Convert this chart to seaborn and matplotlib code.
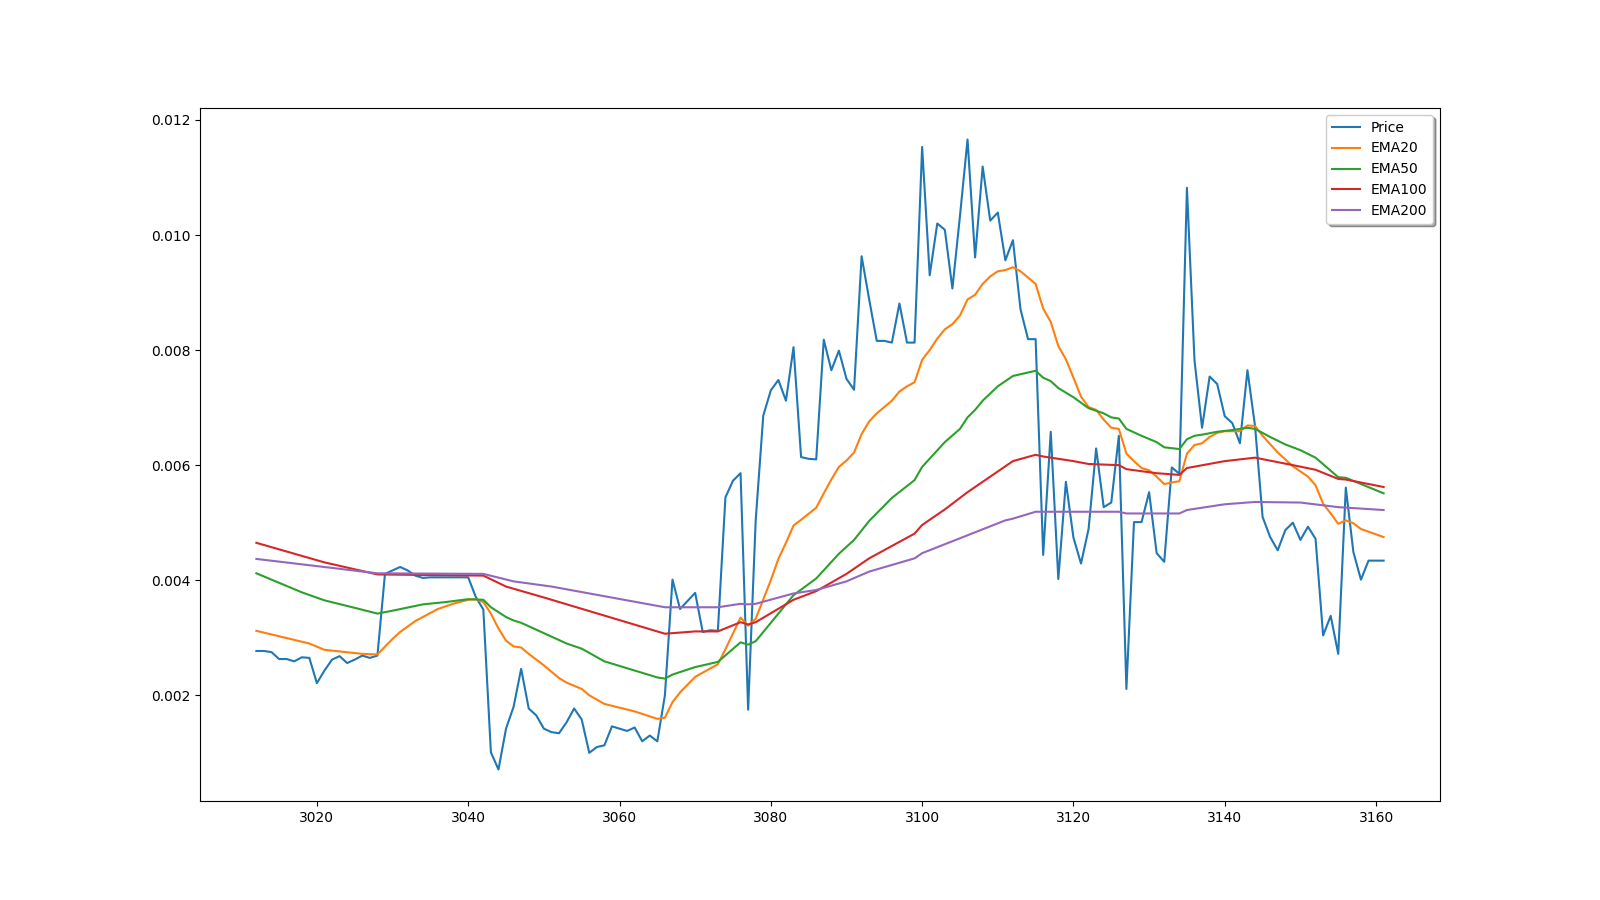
import matplotlib
matplotlib.use("Agg")
import matplotlib.pyplot as plt
import seaborn as sns
import numpy as np

# Price series (one value per integer x from 3012 to 3161)
price_x = list(range(3012, 3162))
price = [
    0.00277, 0.00277, 0.00275, 0.00263, 0.00263, 0.00259, 0.00266, 0.00265, 0.00221, 0.00243,  # 3012-3021
    0.00262, 0.00268, 0.00256, 0.00262, 0.00269, 0.00265, 0.00269, 0.00411, 0.00417, 0.00423,  # 3022-3031
    0.00417, 0.00408, 0.00404, 0.00405, 0.00405, 0.00405, 0.00405, 0.00405, 0.00405, 0.00371,  # 3032-3041
    0.00349, 0.00101, 0.00071, 0.00142, 0.00180, 0.00246, 0.00177, 0.00165, 0.00142, 0.00136,  # 3042-3051
    0.00134, 0.00153, 0.00177, 0.00158, 0.00100, 0.00110, 0.00113, 0.00146, 0.00142, 0.00138,  # 3052-3061
    0.00144, 0.00120, 0.00130, 0.00120, 0.00200, 0.00401, 0.00350, 0.00364, 0.00378, 0.00310,  # 3062-3071
    0.00313, 0.00312, 0.00544, 0.00573, 0.00586, 0.00175, 0.00504, 0.00686, 0.00730, 0.00748,  # 3072-3081
    0.00712, 0.00805, 0.00614, 0.00611, 0.00610, 0.00818, 0.00765, 0.00799, 0.00750, 0.00731,  # 3082-3091
    0.00963, 0.00888, 0.00816, 0.00816, 0.00813, 0.00881, 0.00813, 0.00813, 0.01153, 0.00930,  # 3092-3101
    0.01020, 0.01009, 0.00907, 0.01033, 0.01166, 0.00961, 0.01119, 0.01025, 0.01039, 0.00956,  # 3102-3111
    0.00991, 0.00871, 0.00819, 0.00819, 0.00444, 0.00658, 0.00402, 0.00571, 0.00474, 0.00429,  # 3112-3121
    0.00489, 0.00629, 0.00527, 0.00535, 0.00651, 0.00211, 0.00501, 0.00501, 0.00553, 0.00447,  # 3122-3131
    0.00432, 0.00596, 0.00585, 0.01082, 0.00782, 0.00665, 0.00754, 0.00741, 0.00685, 0.00673,  # 3132-3141
    0.00638, 0.00765, 0.00668, 0.00510, 0.00475, 0.00452, 0.00487, 0.00500, 0.00470, 0.00493,  # 3142-3151
    0.00472, 0.00304, 0.00338, 0.00272, 0.00561, 0.00449, 0.00401, 0.00434, 0.00434, 0.00434,  # 3152-3161
]

ema20_x = [3012, 3019, 3021, 3026, 3028, 3030, 3031, 3033, 3036, 3038, 3040, 3041, 3042, 3043,
           3044, 3045, 3046, 3047, 3048, 3050, 3052, 3053, 3055, 3056, 3058, 3062, 3065, 3066,
           3067, 3068, 3070, 3073, 3074, 3076, 3077, 3078, 3080, 3081, 3082, 3083, 3084, 3086,
           3087, 3088, 3089, 3090, 3091, 3092, 3093, 3094, 3096, 3097, 3098, 3099, 3100, 3101,
           3102, 3103, 3104, 3105, 3106, 3107, 3108, 3109, 3110, 3111, 3112, 3113, 3114, 3115,
           3116, 3117, 3118, 3119, 3120, 3121, 3122, 3123, 3124, 3125, 3126, 3127, 3128, 3129,
           3130, 3131, 3132, 3133, 3134, 3135, 3136, 3137, 3138, 3139, 3140, 3142, 3143, 3144,
           3145, 3147, 3149, 3151, 3152, 3153, 3154, 3155, 3156, 3157, 3158, 3161]
ema20 = [0.00312, 0.00290, 0.00279, 0.00272, 0.00271, 0.00298, 0.00310, 0.00329, 0.00350, 0.00359,
         0.00366, 0.00367, 0.00362, 0.00342, 0.00316, 0.00295, 0.00285, 0.00283, 0.00272, 0.00252,
         0.00230, 0.00222, 0.00211, 0.00200, 0.00185, 0.00172, 0.00159, 0.00161, 0.00188, 0.00205,
         0.00232, 0.00254, 0.00280, 0.00335, 0.00321, 0.00333, 0.00400, 0.00437, 0.00465, 0.00495,
         0.00505, 0.00526, 0.00551, 0.00575, 0.00597, 0.00608, 0.00622, 0.00654, 0.00676, 0.00690,
         0.00712, 0.00728, 0.00737, 0.00744, 0.00783, 0.00800, 0.00820, 0.00836, 0.00845, 0.00860,
         0.00888, 0.00896, 0.00915, 0.00928, 0.00937, 0.00939, 0.00944, 0.00937, 0.00926, 0.00915,
         0.00872, 0.00849, 0.00807, 0.00784, 0.00752, 0.00719, 0.00701, 0.00696, 0.00679, 0.00665,
         0.00663, 0.00620, 0.00607, 0.00595, 0.00591, 0.00580, 0.00567, 0.00570, 0.00572, 0.00620,
         0.00635, 0.00638, 0.00649, 0.00656, 0.00659, 0.00659, 0.00669, 0.00668, 0.00651, 0.00622,
         0.00598, 0.00580, 0.00565, 0.00533, 0.00516, 0.00498, 0.00504, 0.00499, 0.00489, 0.00475]

ema50_x = [3012, 3018, 3021, 3025, 3028, 3030, 3034, 3037, 3040, 3042, 3043, 3045, 3046, 3047,
           3050, 3053, 3055, 3058, 3065, 3066, 3067, 3070, 3073, 3076, 3077, 3078, 3081, 3083,
           3086, 3089, 3091, 3093, 3096, 3099, 3100, 3103, 3105, 3106, 3107, 3108, 3110, 3111,
           3112, 3115, 3116, 3117, 3118, 3119, 3120, 3122, 3124, 3125, 3126, 3127, 3129, 3131,
           3132, 3134, 3135, 3136, 3137, 3139, 3141, 3143, 3144, 3146, 3148, 3150, 3152, 3155,
           3156, 3161]
ema50 = [0.00412, 0.00379, 0.00365, 0.00352, 0.00342, 0.00347, 0.00358, 0.00362, 0.00367, 0.00366,
         0.00353, 0.00336, 0.00330, 0.00326, 0.00308, 0.00290, 0.00281, 0.00259, 0.00231, 0.00229,
         0.00236, 0.00249, 0.00258, 0.00292, 0.00288, 0.00294, 0.00342, 0.00374, 0.00403, 0.00446,
         0.00470, 0.00503, 0.00543, 0.00574, 0.00597, 0.00640, 0.00663, 0.00683, 0.00696, 0.00712,
         0.00737, 0.00746, 0.00755, 0.00764, 0.00752, 0.00746, 0.00734, 0.00726, 0.00718, 0.00699,
         0.00690, 0.00683, 0.00681, 0.00663, 0.00651, 0.00640, 0.00631, 0.00628, 0.00645, 0.00651,
         0.00653, 0.00658, 0.00661, 0.00665, 0.00663, 0.00649, 0.00636, 0.00626, 0.00613, 0.00579,
         0.00578, 0.00551]

ema100_x = [3012, 3021, 3028, 3042, 3045, 3050, 3066, 3070, 3073, 3076, 3077, 3078, 3083, 3086,
            3090, 3093, 3099, 3100, 3103, 3106, 3110, 3112, 3115, 3116, 3120, 3122, 3126, 3127,
            3131, 3134, 3135, 3140, 3144, 3149, 3152, 3155, 3156, 3161]
ema100 = [0.00465, 0.00431, 0.00410, 0.00408, 0.00389, 0.00370, 0.00307, 0.00311, 0.00311, 0.00327,
          0.00323, 0.00327, 0.00366, 0.00381, 0.00411, 0.00438, 0.00481, 0.00496, 0.00523, 0.00553,
          0.00589, 0.00607, 0.00618, 0.00615, 0.00607, 0.00602, 0.00600, 0.00593, 0.00586, 0.00583,
          0.00595, 0.00607, 0.00613, 0.00600, 0.00592, 0.00576, 0.00575, 0.00562]

ema200_x = [3012, 3028, 3042, 3046, 3051, 3066, 3073, 3076, 3077, 3078, 3083, 3086, 3090, 3093,
            3099, 3100, 3111, 3112, 3115, 3126, 3127, 3134, 3135, 3140, 3144, 3150, 3155, 3161]
ema200 = [0.00437, 0.00412, 0.00411, 0.00398, 0.00389, 0.00353, 0.00353, 0.00359, 0.00358, 0.00359,
          0.00377, 0.00383, 0.00398, 0.00415, 0.00438, 0.00447, 0.00504, 0.00507, 0.00519, 0.00519,
          0.00516, 0.00516, 0.00522, 0.00532, 0.00536, 0.00535, 0.00527, 0.00522]

labels = ["Price", "EMA20", "EMA50", "EMA100", "EMA200"]
series = [(price_x, price), (ema20_x, ema20), (ema50_x, ema50), (ema100_x, ema100), (ema200_x, ema200)]
colors = ["#1f77b4", "#ff7f0e", "#2ca02c", "#d62728", "#9467bd"]

fig, ax = plt.subplots(figsize=(16, 9), dpi=100)
for (xs, ys), lab, col in zip(series, labels, colors):
    sns.lineplot(x=xs, y=ys, ax=ax, label=lab, color=col, linewidth=1.5,
                 sort=False, estimator=None)

ax.set_xticks([3020, 3040, 3060, 3080, 3100, 3120, 3140, 3160])
ax.set_yticks([0.002, 0.004, 0.006, 0.008, 0.010, 0.012])
ax.set_yticklabels(["0.002", "0.004", "0.006", "0.008", "0.010", "0.012"])
ax.set_xlabel("")
ax.set_ylabel("")
ax.legend(loc="upper right", shadow=True)

fig.savefig("out.png", dpi=100)
